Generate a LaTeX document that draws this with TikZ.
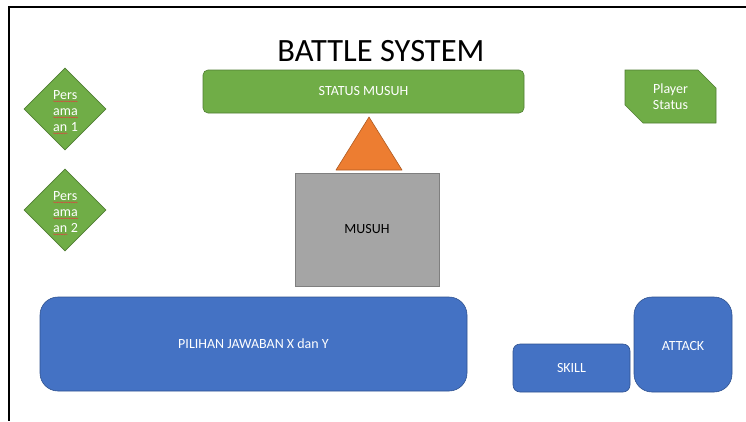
\documentclass[tikz,border=0pt]{standalone}
\usepackage{fontspec}
\setmainfont{Carlito}
\usetikzlibrary{shapes.geometric,shapes.misc,decorations.pathmorphing}

\definecolor{offgreen}{HTML}{70AD47}
\definecolor{offgreenline}{HTML}{507E32}
\definecolor{offblue}{HTML}{4472C4}
\definecolor{offblueline}{HTML}{2F528F}
\definecolor{offorange}{HTML}{ED7D31}
\definecolor{offorangeline}{HTML}{AE5A21}
\definecolor{offgray}{HTML}{A5A5A5}
\definecolor{offgrayline}{HTML}{7F7F7F}
\definecolor{spellred}{HTML}{E04040}

\tikzset{
  labelfont/.style={font=\fontsize{14}{16}\selectfont},
  greenbox/.style={draw=offgreenline, fill=offgreen, line width=0.6pt,
    text=white, labelfont, inner sep=0pt},
  bluebox/.style={draw=offblueline, fill=offblue, line width=0.6pt,
    text=white, labelfont, inner sep=0pt},
  gem/.style={diamond, aspect=1, draw=offgreenline, fill=offgreen,
    line width=0.6pt, minimum size=82pt, inner sep=0pt},
  gemword/.style={anchor=base west, inner sep=0pt, text=white,
    font=\fontsize{14}{16}\selectfont},
  squiggle/.style={draw=spellred, line width=0.45pt,
    decorate, decoration={snake, amplitude=0.5pt, segment length=2.4pt}},
}

\begin{document}
\begin{tikzpicture}[x=1pt, y=-1pt]
  \useasboundingbox (0,0) rectangle (746,421);

  % page frame edges
  \draw[line width=1.6pt, black] (746,7) -- (9,7) -- (9,421);

  % heading
  \node[anchor=base, inner sep=0pt, font=\fontsize{32.5}{36}\selectfont]
    (title) at (381,61) {BATTLE SYSTEM};

  % enemy status bar
  \node[greenbox, rounded corners=5pt, minimum width=321pt, minimum height=43pt]
    (status) at (363.5,91.5) {STATUS MUSUH};

  % enemy marker
  \draw[draw=offorangeline, fill=offorange, line width=0.6pt, line join=round]
    (336,170) -- (369,117) -- (402,170) -- cycle;

  % enemy box
  \node[draw=offgrayline, fill=offgray, line width=0.6pt, minimum width=144pt,
    minimum height=113pt, inner sep=0pt, labelfont]
    (musuh) at (367,229.5) {MUSUH};

  % player status panel
  \node[greenbox, chamfered rectangle, chamfered rectangle corners={north east, south west},
    chamfered rectangle xsep=9pt, chamfered rectangle ysep=9pt,
    minimum width=91pt, minimum height=53pt, align=center,
    font=\fontsize{14}{16}\selectfont]
    (player) at (670.5,96.5) {Player\\Status};

  % equation diamonds
  \node[gem] (eq1) at (65,109) {};
  \node[gemword] (eq1a) at (53,99)  {Pers};
  \node[gemword] (eq1b) at (53,115) {ama};
  \node[gemword] (eq1c) at (53,131) {an};
  \node[gemword] (eq1d) at (eq1c.base east) {\ 1};
  \draw[squiggle] ([yshift=-2.3pt]eq1a.base west) -- ([yshift=-2.3pt]eq1a.base east);
  \draw[squiggle] ([yshift=-2.3pt]eq1b.base west) -- ([yshift=-2.3pt]eq1b.base east);
  \draw[squiggle] ([yshift=-2.3pt]eq1c.base west) -- ([yshift=-2.3pt]eq1c.base east);

  \node[gem] (eq2) at (65,210) {};
  \node[gemword] (eq2a) at (53,200) {Pers};
  \node[gemword] (eq2b) at (53,216) {ama};
  \node[gemword] (eq2c) at (53,232) {an};
  \node[gemword] (eq2d) at (eq2c.base east) {\ 2};
  \draw[squiggle] ([yshift=-2.3pt]eq2a.base west) -- ([yshift=-2.3pt]eq2a.base east);
  \draw[squiggle] ([yshift=-2.3pt]eq2b.base west) -- ([yshift=-2.3pt]eq2b.base east);
  \draw[squiggle] ([yshift=-2.3pt]eq2c.base west) -- ([yshift=-2.3pt]eq2c.base east);

  % answer and action buttons
  \node[bluebox, rounded corners=18pt, minimum width=427pt, minimum height=94pt]
    (answers) at (253.5,344) {PILIHAN JAWABAN X dan Y};
  \node[bluebox, rounded corners=7pt, minimum width=117pt, minimum height=48pt]
    (skill) at (571.5,368) {SKILL};
  \node[bluebox, rounded corners=18pt, minimum width=98pt, minimum height=95pt]
    (attack) at (683,344.5) {};
  \node[text=white, inner sep=0pt, labelfont]
    (attacklbl) at (683,346) {ATTACK};
\end{tikzpicture}
\end{document}
